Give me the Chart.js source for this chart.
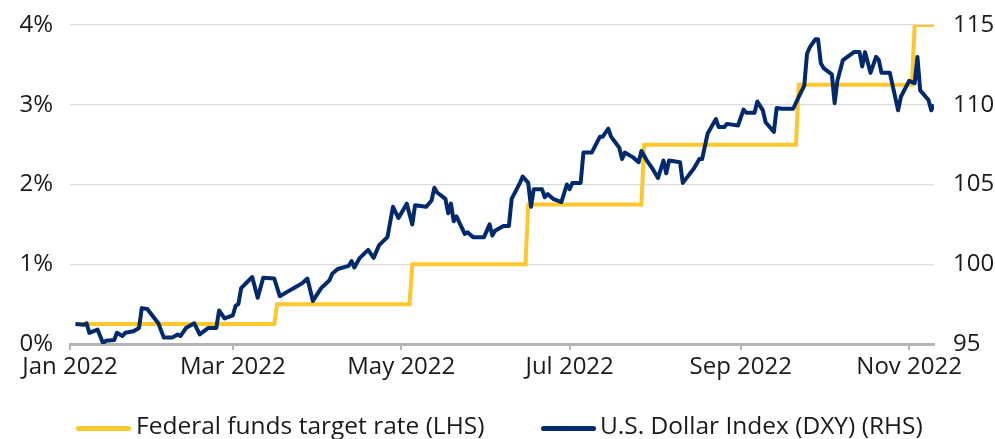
<!DOCTYPE html>
<html>
<head>
<meta charset="utf-8">
<script src="https://cdn.jsdelivr.net/npm/chart.js@4"></script>
<style>
html,body{margin:0;padding:0;background:#fff;}
#wrap{width:995px;height:439px;position:relative;overflow:hidden;}
#legend{position:absolute;left:0;top:410px;width:995px;height:29px;font-family:"Open Sans","Noto Sans",sans-serif;font-size:24.5px;color:#1a1a1a;}
.item{position:absolute;top:0;white-space:nowrap;line-height:29px;}
.sw{position:absolute;top:16px;width:55px;height:5px;border-radius:2.5px;}
.txt{position:absolute;left:60px;top:0;}
</style>
</head>
<body>
<div id="wrap">
  <canvas id="c" width="995" height="439"></canvas>
  <div id="legend"></div>
</div>
<script>
// ---- Data ----
const monthTickDates = ['2022-01-01','2022-03-01','2022-05-01','2022-07-01','2022-09-01','2022-11-01'];
const monthTickLabels = ['Jan 2022','Mar 2022','May 2022','Jul 2022','Sep 2022','Nov 2022'];

const fedDates = ['2022-01-03','2022-03-16','2022-03-17','2022-05-04','2022-05-05','2022-06-15','2022-06-16',
  '2022-07-27','2022-07-28','2022-09-21','2022-09-22','2022-11-02','2022-11-03','2022-11-10'];
const fedRates = [0.25,0.25,0.5,0.5,1.0,1.0,1.75,1.75,2.5,2.5,3.25,3.25,4.0,4.0];

const dxyDates = ['2022-01-03','2022-01-06','2022-01-07','2022-01-08','2022-01-11','2022-01-13','2022-01-14','2022-01-17',
'2022-01-18','2022-01-20','2022-01-21','2022-01-24','2022-01-26','2022-01-27','2022-01-29','2022-02-02','2022-02-04',
'2022-02-07','2022-02-09','2022-02-10','2022-02-12','2022-02-15','2022-02-17','2022-02-20','2022-02-23','2022-02-24',
'2022-02-26','2022-03-01','2022-03-02','2022-03-03','2022-03-04','2022-03-08','2022-03-10','2022-03-12','2022-03-16',
'2022-03-18','2022-03-21','2022-03-23','2022-03-26','2022-03-28','2022-03-30','2022-04-02','2022-04-05','2022-04-06',
'2022-04-08','2022-04-12','2022-04-13','2022-04-14','2022-04-16','2022-04-19','2022-04-21','2022-04-23','2022-04-26',
'2022-04-28','2022-04-30','2022-05-03','2022-05-05','2022-05-06','2022-05-10','2022-05-12','2022-05-13','2022-05-14',
'2022-05-17','2022-05-18','2022-05-19','2022-05-20','2022-05-21','2022-05-24','2022-05-25','2022-05-27','2022-05-31',
'2022-06-02','2022-06-03','2022-06-04','2022-06-07','2022-06-09','2022-06-10','2022-06-13','2022-06-14','2022-06-16',
'2022-06-17','2022-06-18','2022-06-21','2022-06-22','2022-06-23','2022-06-25','2022-06-28','2022-06-30','2022-07-01',
'2022-07-02','2022-07-05','2022-07-06','2022-07-09','2022-07-12','2022-07-13','2022-07-15','2022-07-16','2022-07-19',
'2022-07-20','2022-07-21','2022-07-24','2022-07-26','2022-07-27','2022-07-29','2022-07-31','2022-08-02','2022-08-04',
'2022-08-05','2022-08-06','2022-08-10','2022-08-11','2022-08-15','2022-08-17','2022-08-18','2022-08-20','2022-08-23',
'2022-08-24','2022-08-26','2022-08-27','2022-08-31','2022-09-02','2022-09-03','2022-09-06','2022-09-07','2022-09-09',
'2022-09-10','2022-09-13','2022-09-14','2022-09-16','2022-09-20','2022-09-22','2022-09-24','2022-09-25','2022-09-26',
'2022-09-28','2022-09-29','2022-09-30','2022-10-01','2022-10-04','2022-10-05','2022-10-06','2022-10-08','2022-10-12',
'2022-10-14','2022-10-15','2022-10-16','2022-10-18','2022-10-20','2022-10-21','2022-10-22','2022-10-25','2022-10-28',
'2022-10-29','2022-11-01','2022-11-03','2022-11-04','2022-11-05','2022-11-08','2022-11-09','2022-11-10'];
const dxyValues = [96.26,96.2,96.3,95.7,95.9,95.05,95.2,95.25,
95.7,95.5,95.7,95.8,96.0,97.25,97.2,96.3,95.4,
95.4,95.6,95.5,96.0,96.3,95.6,96.0,96.0,97.1,
96.6,96.8,97.4,97.5,98.5,99.2,97.9,99.15,99.1,
98.0,98.3,98.5,98.8,99.1,97.7,98.5,99.0,99.4,
99.7,99.9,100.2,99.8,100.4,100.9,100.4,101.2,101.7,
103.6,102.9,103.8,102.5,103.7,103.6,104.0,104.8,104.5,
104.1,103.2,103.8,102.7,103.0,101.9,102.0,101.7,101.7,
102.5,101.8,102.1,102.4,102.4,104.1,105.1,105.5,105.1,
103.6,104.7,104.7,104.2,104.4,104.1,103.9,105.0,104.7,
105.1,105.1,107.0,107.0,108.0,108.0,108.5,108.0,107.3,
106.6,107.0,106.7,106.4,107.1,106.5,106.0,105.4,106.5,
105.7,106.5,106.4,105.1,106.0,106.6,106.6,108.2,109.1,
108.6,108.6,108.8,108.7,109.7,109.5,109.5,110.2,109.65,
108.9,108.3,109.8,109.75,109.75,110.5,111.2,113.2,113.6,
114.1,114.1,112.6,112.3,111.9,110.1,111.5,112.8,113.3,
113.3,112.4,113.3,112.0,113.0,112.8,112.0,112.0,109.65,
110.5,111.5,111.35,113.0,110.9,110.3,109.65,110.0];

const leftTicks = [0,1,2,3,4];
const rightTicks = [95,100,105,110,115];
const seriesLabels = ['Federal funds target rate (LHS)','U.S. Dollar Index (DXY) (RHS)'];

// ---- helpers ----
const day0 = Date.UTC(2022,0,1);
function dayOf(s){const p=s.split('-').map(Number);return (Date.UTC(p[0],p[1]-1,p[2])-day0)/86400000;}
const fedPts = fedDates.map((d,i)=>({x:dayOf(d),y:fedRates[i]}));
const dxyPts = dxyDates.map((d,i)=>({x:dayOf(d),y:dxyValues[i]}));
const tickDays = monthTickDates.map(dayOf);

const FONT = {family:'"Open Sans", "Noto Sans", sans-serif', size:24};
const YELLOW = '#FFC72C', NAVY = '#002A6C';
const TXT = '#1a1a1a';

const chart = new Chart(document.getElementById('c'), {
  type:'line',
  data:{datasets:[
    {label:seriesLabels[0], data:fedPts, yAxisID:'y', borderColor:YELLOW, backgroundColor:YELLOW,
     borderWidth:4, pointRadius:0, tension:0, order:2},
    {label:seriesLabels[1], data:dxyPts, yAxisID:'y1', borderColor:NAVY, backgroundColor:NAVY,
     borderWidth:4, pointRadius:0, tension:0, order:1, borderJoinStyle:'round'}
  ]},
  options:{
    responsive:false, animation:false,
    layout:{padding:{top:25,left:0,right:0,bottom:56}},
    plugins:{ legend:{display:false}, tooltip:{enabled:false} },
    scales:{
      x:{type:'linear', min:0, max:313,
        afterBuildTicks:(s)=>{s.ticks=tickDays.map(v=>({value:v}));},
        afterFit:(s)=>{s.height=39;},
        ticks:{autoSkip:false, maxRotation:0, color:TXT, font:FONT, padding:3,
          callback:(v)=>{const i=tickDays.indexOf(v);return i>=0?monthTickLabels[i]:'';}},
        grid:{drawOnChartArea:false, drawTicks:true, tickLength:6, color:'#b4b4b4', lineWidth:2},
        border:{display:true, color:'#b4b4b4', width:3}
      },
      y:{position:'left', min:0, max:4,
        afterBuildTicks:(s)=>{s.ticks=leftTicks.map(v=>({value:v}));},
        afterFit:(s)=>{s.width=70; s.paddingTop=0; s.paddingBottom=0;},
        ticks:{color:TXT, font:FONT, padding:17, callback:(v)=>v+'%'},
        grid:{color:'#dcdcdc', lineWidth:1.2, drawTicks:false},
        border:{display:false}
      },
      y1:{position:'right', min:95, max:115,
        afterBuildTicks:(s)=>{s.ticks=rightTicks.map(v=>({value:v}));},
        afterFit:(s)=>{s.width=61; s.paddingTop=0; s.paddingBottom=0;},
        ticks:{color:TXT, font:FONT, padding:19},
        grid:{drawOnChartArea:false, drawTicks:false},
        border:{display:false}
      }
    }
  }
});

// HTML legend built from the datasets
const legendPos = [{sw:76, txt:136},{sw:541, txt:600}];
const leg = document.getElementById('legend');
chart.data.datasets.forEach((ds,i)=>{
  const it = document.createElement('div'); it.className='item'; it.style.left = legendPos[i].sw+'px';
  const sw = document.createElement('span'); sw.className='sw'; sw.style.left='0px'; sw.style.background=ds.borderColor;
  const tx = document.createElement('span'); tx.className='txt'; tx.style.left=(legendPos[i].txt-legendPos[i].sw)+'px'; tx.textContent = ds.label;
  it.appendChild(sw); it.appendChild(tx); leg.appendChild(it);
});
</script>
</body>
</html>
